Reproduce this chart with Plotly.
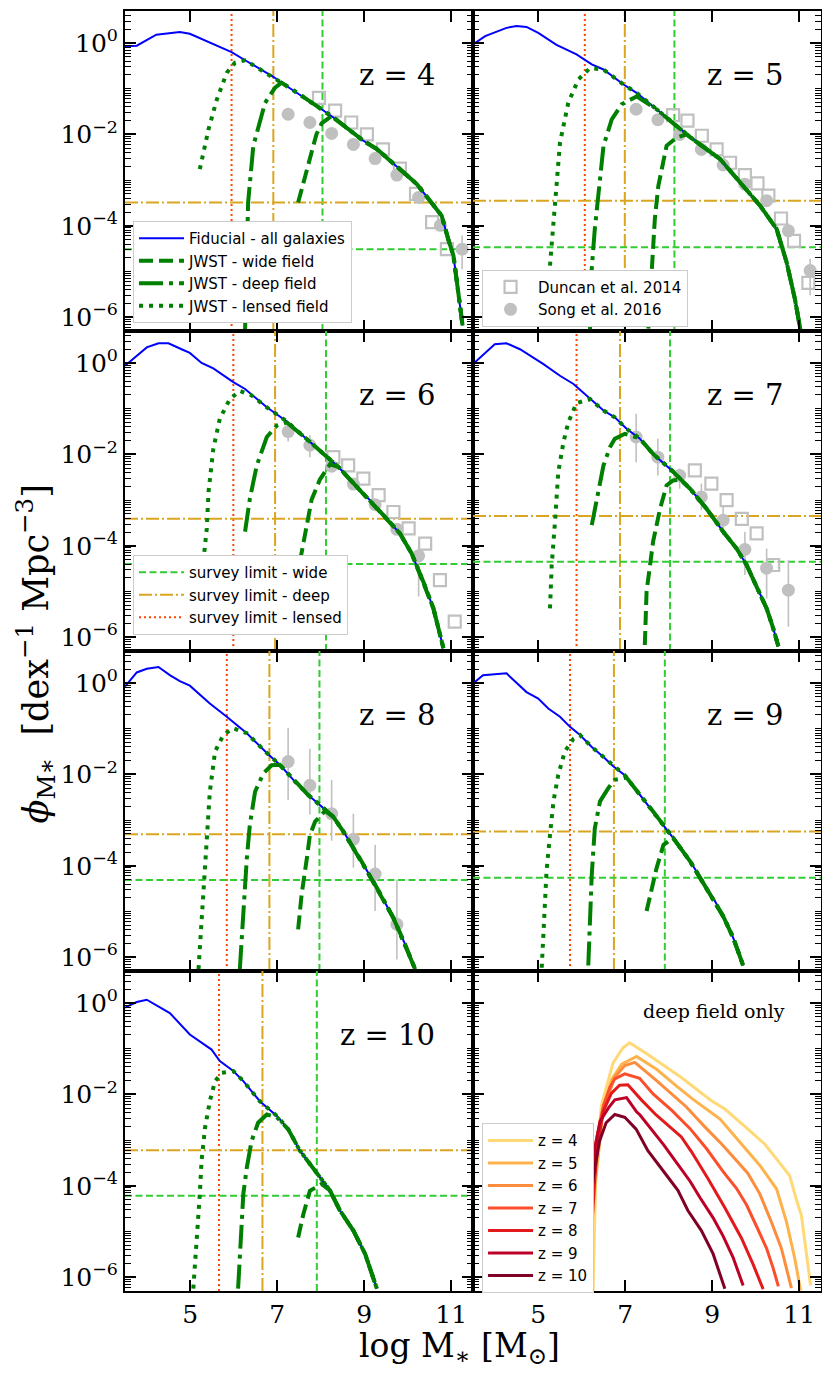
import numpy as np
import plotly.graph_objects as go
from plotly.subplots import make_subplots

# axis extents (log M*, log10 phi)
M_RANGE = [3.5, 11.5]
LOGPHI_RANGE = [-6.301, 0.699]

# ---------------- z = 4 ----------------
fid_z4_m = [3.5, 3.77, 4.22, 4.76, 4.99, 5.95, 6.3, 6.91, 7.1, 7.52, 8.02, 8.29, 8.98, 9.29, 9.82, 10.21, 10.51, 10.78, 10.93, 11.05, 11.13, 11.26]
fid_z4_phi = [-0.07, -0.06, 0.18, 0.24, 0.20, -0.20, -0.40, -0.74, -0.87, -1.13, -1.45, -1.63, -2.14, -2.32, -2.76, -3.09, -3.45, -3.78, -4.29, -4.65, -5.23, -6.18]
wide_z4_m = [7.48, 7.75, 7.9, 8.02, 8.25]
wide_z4_phi = [-3.49, -2.5, -2.0, -1.76, -1.60]
deep_z4_m = [6.26, 6.33, 6.45, 6.72, 6.95, 7.1]
deep_z4_phi = [-6.3, -3.49, -2.25, -1.31, -0.98, -0.87]
lens_z4_m = [5.22, 5.42, 5.61, 5.84, 6.03, 6.26]
lens_z4_phi = [-2.76, -1.89, -1.24, -0.65, -0.43, -0.38]
vlim_z4 = [8.04, 6.91, 5.95]      # wide, deep, lensed
hlim_z4 = [-4.51, -3.49]          # wide, deep

# ---------------- z = 5 ----------------
fid_z5_m = [3.5, 3.78, 4.27, 4.5, 4.73, 5.0, 5.42, 5.88, 6.23, 6.5, 6.96, 7.26, 7.72, 8.18, 8.41, 8.56, 9.18, 9.64, 10.1, 10.48, 10.71, 10.9, 11.03]
fid_z5_phi = [-0.035, 0.15, 0.33, 0.37, 0.35, 0.22, -0.04, -0.25, -0.47, -0.58, -0.91, -1.09, -1.45, -1.82, -2.0, -2.11, -2.54, -3.05, -3.56, -4.07, -4.80, -5.60, -6.29]
wide_z5_m = [7.53, 7.61, 7.68, 7.76, 7.87, 7.95, 8.18, 8.41]
wide_z5_phi = [-6.25, -4.87, -3.85, -3.13, -2.62, -2.25, -2.07, -2.0]
deep_z5_m = [6.19, 6.23, 6.3, 6.42, 6.5, 6.69, 6.92, 7.26]
deep_z5_phi = [-6.28, -4.93, -4.07, -3.05, -2.25, -1.67, -1.34, -1.17]
lens_z5_m = [5.27, 5.39, 5.5, 5.69, 5.92, 6.19, 6.5]
lens_z5_phi = [-4.87, -3.42, -2.18, -1.31, -0.80, -0.55, -0.58]
vlim_z5 = [8.13, 6.99, 6.07]
hlim_z5 = [-4.47, -3.45]

# ---------------- z = 6 ----------------
fid_z6_m = [3.5, 4.0, 4.27, 4.5, 4.80, 4.99, 5.26, 5.53, 5.99, 6.26, 6.76, 7.22, 7.72, 8.14, 8.4, 8.83, 9.21, 9.52, 9.82, 10.09, 10.36, 10.59, 10.82]
fid_z6_phi = [-0.06, 0.34, 0.43, 0.43, 0.30, 0.22, 0.0, -0.12, -0.42, -0.57, -0.97, -1.28, -1.70, -2.05, -2.27, -2.71, -3.08, -3.41, -3.73, -4.17, -4.79, -5.37, -6.24]
wide_z6_m = [7.52, 7.71, 7.79, 7.98, 8.21, 8.4]
wide_z6_phi = [-4.35, -3.33, -2.99, -2.55, -2.22, -2.27]
deep_z6_m = [6.26, 6.37, 6.53, 6.76, 6.99, 7.22]
deep_z6_phi = [-3.69, -2.97, -2.24, -1.62, -1.37, -1.30]
lens_z6_m = [5.3, 5.38, 5.42, 5.53, 5.68, 5.91, 6.14, 6.41]
lens_z6_phi = [-4.35, -3.62, -2.82, -1.88, -1.22, -0.79, -0.61, -0.71]
vlim_z6 = [8.12, 6.95, 5.99]
hlim_z6 = [-4.40, -3.41]

# ---------------- z = 7 ----------------
fid_z7_m = [3.5, 4.0, 4.27, 4.58, 5.12, 5.5, 5.81, 6.19, 6.5, 6.76, 7.03, 7.33, 7.64, 8.07, 8.49, 8.87, 9.25, 9.56, 9.79, 10.02, 10.25, 10.4, 10.52]
fid_z7_phi = [-0.025, 0.41, 0.43, 0.30, -0.025, -0.28, -0.46, -0.79, -1.04, -1.19, -1.44, -1.65, -1.99, -2.35, -2.75, -3.19, -3.69, -4.06, -4.42, -4.89, -5.37, -5.80, -6.2]
wide_z7_m = [7.45, 7.49, 7.57, 7.64, 7.8, 7.95, 8.1, 8.26]
wide_z7_phi = [-6.17, -5.0, -4.42, -3.91, -3.19, -2.68, -2.57, -2.55]
deep_z7_m = [6.23, 6.34, 6.5, 6.65, 6.76, 6.99, 7.33]
deep_z7_phi = [-3.55, -2.97, -2.24, -1.84, -1.66, -1.55, -1.65]
lens_z7_m = [5.27, 5.31, 5.39, 5.46, 5.58, 5.69, 5.88, 6.19]
lens_z7_phi = [-5.37, -4.42, -3.41, -2.39, -1.73, -1.30, -0.88, -0.79]
vlim_z7 = [8.03, 6.88, 5.88]
hlim_z7 = [-4.35, -3.35]

# ---------------- z = 8 ----------------
fid_z8_m = [3.5, 3.77, 4.0, 4.27, 4.53, 4.76, 4.99, 5.45, 5.84, 6.3, 6.79, 7.06, 7.37, 7.71, 7.98, 8.29, 8.52, 8.9, 9.29, 9.67, 9.94, 10.17]
fid_z8_phi = [-0.08, 0.23, 0.31, 0.35, 0.17, 0.04, -0.06, -0.45, -0.74, -1.10, -1.56, -1.79, -2.12, -2.45, -2.67, -2.93, -3.25, -3.84, -4.48, -5.14, -5.72, -6.26]
wide_z8_m = [7.48, 7.56, 7.68, 7.75, 7.87, 8.1]
wide_z8_phi = [-5.39, -4.63, -3.84, -3.33, -3.03, -2.80]
deep_z8_m = [6.14, 6.22, 6.3, 6.37, 6.49, 6.68, 6.87, 7.06]
deep_z8_phi = [-6.26, -4.92, -3.84, -3.10, -2.38, -1.98, -1.80, -1.79]
lens_z8_m = [5.19, 5.26, 5.34, 5.42, 5.45, 5.57, 5.76, 5.99, 6.3]
lens_z8_phi = [-6.26, -5.28, -4.19, -3.10, -2.38, -1.5, -1.14, -0.99, -1.10]
vlim_z8 = [7.97, 6.82, 5.84]
hlim_z8 = [-4.31, -3.31]

# ---------------- z = 9 ----------------
fid_z9_m = [3.5, 3.73, 4.27, 4.73, 5.0, 5.23, 5.5, 5.73, 5.96, 6.23, 6.5, 6.73, 6.99, 7.34, 7.64, 7.88, 8.1, 8.49, 8.72, 9.02, 9.25, 9.48, 9.71]
fid_z9_phi = [-0.014, 0.17, 0.21, -0.2, -0.34, -0.56, -0.74, -0.96, -1.14, -1.40, -1.62, -1.83, -2.02, -2.45, -2.81, -3.10, -3.39, -3.90, -4.26, -4.70, -5.10, -5.57, -6.18]
wide_z9_m = [7.49, 7.61, 7.72, 7.88, 8.1]
wide_z9_phi = [-4.99, -4.48, -4.05, -3.54, -3.39]
deep_z9_m = [6.15, 6.19, 6.23, 6.3, 6.42, 6.61, 6.76, 7.03, 7.26]
deep_z9_phi = [-6.18, -5.06, -4.19, -3.18, -2.59, -2.30, -2.12, -2.07, -2.38]
lens_z9_m = [5.08, 5.12, 5.16, 5.19, 5.27, 5.35, 5.46, 5.61, 5.81, 5.96]
lens_z9_phi = [-6.23, -5.5, -4.78, -4.12, -3.32, -2.59, -2.01, -1.5, -1.22, -1.14]
vlim_z9 = [7.91, 6.74, 5.73]
hlim_z9 = [-4.26, -3.25]

# ---------------- z = 10 ----------------
fid_z10_m = [3.5, 3.77, 4.0, 4.53, 4.99, 5.49, 5.68, 5.99, 6.22, 6.6, 6.99, 7.25, 7.52, 7.87, 8.21, 8.44, 8.75, 9.02, 9.29]
fid_z10_phi = [-0.1, 0.02, 0.07, -0.22, -0.69, -1.02, -1.27, -1.49, -1.71, -2.15, -2.47, -2.76, -3.23, -3.67, -4.10, -4.54, -4.98, -5.49, -6.25]
wide_z10_m = [7.48, 7.6, 7.75, 8.02, 8.21]
wide_z10_phi = [-5.13, -4.62, -4.11, -3.96, -4.10]
deep_z10_m = [6.1, 6.18, 6.22, 6.3, 6.41, 6.56, 6.76, 6.99]
deep_z10_phi = [-6.25, -5.05, -4.18, -3.6, -3.02, -2.62, -2.44, -2.5]
lens_z10_m = [5.07, 5.15, 5.22, 5.26, 5.34, 5.45, 5.57, 5.72, 5.95]
lens_z10_phi = [-6.25, -5.27, -4.18, -3.45, -2.73, -2.15, -1.71, -1.53, -1.49]
vlim_z10 = [7.91, 6.66, 5.66]
hlim_z10 = [-4.22, -3.22]

# ---------------- observations ----------------
duncan_z4_m = [7.96, 8.33, 8.70, 9.06, 9.43, 9.82, 10.19, 10.56, 10.90]
duncan_z4_phi = [-1.20, -1.48, -1.74, -2.0, -2.33, -2.75, -3.3, -3.92, -4.51]
duncan_z5_m = [8.1, 8.43, 8.76, 9.1, 9.41, 9.75, 10.04, 10.29, 10.58, 10.88, 11.21]
duncan_z5_phi = [-1.58, -1.70, -2.03, -2.33, -2.62, -2.89, -3.07, -3.34, -3.84, -4.33, -5.25]
duncan_z6_m = [8.29, 8.63, 8.98, 9.33, 9.67, 10.02, 10.4, 10.74, 11.08]
duncan_z6_phi = [-2.06, -2.24, -2.53, -2.89, -3.26, -3.62, -3.95, -4.75, -5.66]
duncan_z7_m = [8.6, 8.98, 9.33, 9.68, 10.02, 10.4]
duncan_z7_phi = [-2.35, -2.64, -3.0, -3.41, -3.73, -4.42]

song_z4_m = [7.25, 7.75, 8.25, 8.75, 9.25, 9.75, 10.25, 10.75, 11.25]
song_z4_phi = [-1.56, -1.74, -1.98, -2.22, -2.53, -2.89, -3.38, -3.99, -4.51]
song_z4_hi = [-1.51, -1.69, -1.93, -2.17, -2.48, -2.84, -3.32, -3.90, -4.21]
song_z4_lo = [-1.61, -1.79, -2.03, -2.27, -2.58, -2.94, -3.44, -4.10, -4.95]
song_z5_m = [7.25, 7.75, 8.25, 8.75, 9.25, 9.75, 10.25, 10.75, 11.25]
song_z5_phi = [-1.45, -1.68, -2.0, -2.33, -2.67, -3.09, -3.45, -4.11, -4.98]
song_z5_hi = [-1.35, -1.6, -1.95, -2.3, -2.62, -3.03, -3.38, -3.95, -4.72]
song_z5_lo = [-1.55, -1.76, -2.05, -2.37, -2.72, -3.15, -3.52, -4.27, -5.52]
song_z6_m = [7.25, 7.75, 8.25, 8.75, 9.25, 9.75, 10.25]
song_z6_phi = [-1.50, -1.80, -2.26, -2.65, -3.10, -3.64, -4.22]
song_z6_hi = [-1.30, -1.58, -2.18, -2.58, -3.03, -3.55, -4.0]
song_z6_lo = [-1.72, -2.06, -2.34, -2.72, -3.17, -3.75, -5.11]
song_z7_m = [7.25, 7.75, 8.25, 8.75, 9.25, 9.75, 10.25, 10.75]
song_z7_phi = [-1.62, -2.06, -2.46, -2.93, -3.44, -4.08, -4.49, -4.97]
song_z7_hi = [-1.11, -1.66, -2.31, -2.64, -3.15, -3.69, -4.06, -4.31]
song_z7_lo = [-2.17, -2.46, -2.75, -3.22, -3.77, -4.64, -5.15, -5.77]
song_z8_m = [7.25, 7.75, 8.25, 8.75, 9.25, 9.75]
song_z8_phi = [-1.72, -2.24, -2.86, -3.42, -4.18, -5.28]
song_z8_hi = [-0.98, -1.44, -2.12, -2.86, -3.54, -4.31]
song_z8_lo = [-2.56, -2.88, -3.45, -4.04, -4.99, -6.05]

redshifts = [4, 5, 6, 7, 8, 9, 10]
deep_colors = ['#fed976', '#feb24c', '#fd8d3c', '#fc4e2a', '#e31a1c', '#bd0026', '#800026']

# ---------------- styles ----------------
GREEN = '#008000'
C_WIDE = '#32cd32'
C_DEEP = '#daa520'
C_LENS = '#ff4500'
OBS = '#c0c0c0'
SERIF = 'DejaVu Serif'
SANS = 'DejaVu Sans'

panels = {
    4: dict(fid=(fid_z4_m, fid_z4_phi), wide=(wide_z4_m, wide_z4_phi), deep=(deep_z4_m, deep_z4_phi),
            lens=(lens_z4_m, lens_z4_phi), v=vlim_z4, h=hlim_z4,
            duncan=(duncan_z4_m, duncan_z4_phi), song=(song_z4_m, song_z4_phi, song_z4_hi, song_z4_lo)),
    5: dict(fid=(fid_z5_m, fid_z5_phi), wide=(wide_z5_m, wide_z5_phi), deep=(deep_z5_m, deep_z5_phi),
            lens=(lens_z5_m, lens_z5_phi), v=vlim_z5, h=hlim_z5,
            duncan=(duncan_z5_m, duncan_z5_phi), song=(song_z5_m, song_z5_phi, song_z5_hi, song_z5_lo)),
    6: dict(fid=(fid_z6_m, fid_z6_phi), wide=(wide_z6_m, wide_z6_phi), deep=(deep_z6_m, deep_z6_phi),
            lens=(lens_z6_m, lens_z6_phi), v=vlim_z6, h=hlim_z6,
            duncan=(duncan_z6_m, duncan_z6_phi), song=(song_z6_m, song_z6_phi, song_z6_hi, song_z6_lo)),
    7: dict(fid=(fid_z7_m, fid_z7_phi), wide=(wide_z7_m, wide_z7_phi), deep=(deep_z7_m, deep_z7_phi),
            lens=(lens_z7_m, lens_z7_phi), v=vlim_z7, h=hlim_z7,
            duncan=(duncan_z7_m, duncan_z7_phi), song=(song_z7_m, song_z7_phi, song_z7_hi, song_z7_lo)),
    8: dict(fid=(fid_z8_m, fid_z8_phi), wide=(wide_z8_m, wide_z8_phi), deep=(deep_z8_m, deep_z8_phi),
            lens=(lens_z8_m, lens_z8_phi), v=vlim_z8, h=hlim_z8,
            duncan=None, song=(song_z8_m, song_z8_phi, song_z8_hi, song_z8_lo)),
    9: dict(fid=(fid_z9_m, fid_z9_phi), wide=(wide_z9_m, wide_z9_phi), deep=(deep_z9_m, deep_z9_phi),
            lens=(lens_z9_m, lens_z9_phi), v=vlim_z9, h=hlim_z9, duncan=None, song=None),
    10: dict(fid=(fid_z10_m, fid_z10_phi), wide=(wide_z10_m, wide_z10_phi), deep=(deep_z10_m, deep_z10_phi),
             lens=(lens_z10_m, lens_z10_phi), v=vlim_z10, h=hlim_z10, duncan=None, song=None),
}
cells = {4: (1, 1), 5: (1, 2), 6: (2, 1), 7: (2, 2), 8: (3, 1), 9: (3, 2), 10: (4, 1)}


def join_curve(rise, fid):
    # rising part of a survey curve, then the fiducial beyond the join point
    rm, rp = rise
    fm, fp = fid
    m = list(rm) + [x for x in fm if x > rm[-1]]
    p = list(rp) + [y for x, y in zip(fm, fp) if x > rm[-1]]
    return m, 10 ** np.array(p)


fig = make_subplots(rows=4, cols=2, shared_xaxes=True, shared_yaxes=True,
                    horizontal_spacing=0, vertical_spacing=0)

y_span = [10 ** LOGPHI_RANGE[0], 10 ** LOGPHI_RANGE[1]]

for z in redshifts:
    d = panels[z]
    row, col = cells[z]
    first = (z == 4)

    # survey limits: wide, deep, lensed (vertical) and wide, deep (horizontal)
    styles = [(C_WIDE, '7px,3.5px', 'survey limit - wide'),
              (C_DEEP, '13px,3px,2px,3px', 'survey limit - deep'),
              (C_LENS, '2px,3px', 'survey limit - lensed')]
    for k, (c, dash, name) in enumerate(styles):
        fig.add_trace(go.Scatter(x=[d['v'][k], d['v'][k]], y=y_span, mode='lines',
                                 line=dict(color=c, width=2, dash=dash), name=name,
                                 showlegend=first, legend='legend3', hoverinfo='skip'),
                      row=row, col=col)
    for k in range(2):
        c, dash, name = styles[k]
        fig.add_trace(go.Scatter(x=M_RANGE, y=[10 ** d['h'][k]] * 2, mode='lines',
                                 line=dict(color=c, width=2, dash=dash), name=name,
                                 showlegend=False, hoverinfo='skip'),
                      row=row, col=col)

    # observations
    if d['duncan'] is not None:
        fig.add_trace(go.Scatter(x=d['duncan'][0], y=10 ** np.array(d['duncan'][1]), mode='markers',
                                 marker=dict(symbol='square-open', size=12, color=OBS, line=dict(width=2.2)),
                                 name='Duncan et al. 2014', showlegend=first, legend='legend2'),
                      row=row, col=col)
    if d['song'] is not None:
        sm, sp, shi, slo = d['song']
        yv = 10 ** np.array(sp)
        fig.add_trace(go.Scatter(x=sm, y=yv, mode='markers',
                                 marker=dict(symbol='circle', size=13, color=OBS),
                                 error_y=dict(type='data', symmetric=False,
                                              array=10 ** np.array(shi) - yv,
                                              arrayminus=yv - 10 ** np.array(slo),
                                              color=OBS, thickness=1.6, width=0),
                                 name='Song et al. 2016', showlegend=first, legend='legend2'),
                      row=row, col=col)

    # fiducial model
    fig.add_trace(go.Scatter(x=d['fid'][0], y=10 ** np.array(d['fid'][1]), mode='lines',
                             line=dict(color='blue', width=2), name='Fiducial - all galaxies',
                             showlegend=first, legend='legend'),
                  row=row, col=col)

    # JWST survey curves
    for key, dash, name in [('wide', '14px,6px', 'JWST - wide field'),
                            ('deep', '24px,6px,4px,6px', 'JWST - deep field'),
                            ('lens', '4px,6px', 'JWST - lensed field')]:
        m, y = join_curve(d[key], d['fid'])
        fig.add_trace(go.Scatter(x=m, y=y, mode='lines',
                                 line=dict(color=GREEN, width=4, dash=dash), name=name,
                                 showlegend=first, legend='legend'),
                      row=row, col=col)

    idx = (row - 1) * 2 + col
    sfx = '' if idx == 1 else str(idx)
    fig.add_annotation(text='z = %d' % z, x=0.897, y=0.80, xref='x%s domain' % sfx,
                       yref='y%s domain' % sfx, xanchor='right', yanchor='middle',
                       showarrow=False, font=dict(family=SERIF, size=29, color='black'))

# deep field only panel
for z, c in zip(redshifts, deep_colors):
    m, y = join_curve(panels[z]['deep'], panels[z]['fid'])
    fig.add_trace(go.Scatter(x=m, y=y, mode='lines', line=dict(color=c, width=3),
                             name='z = %d' % z, legend='legend4'),
                  row=4, col=2)
fig.add_annotation(text='deep field only', x=0.901, y=0.874, xref='x8 domain', yref='y8 domain',
                   xanchor='right', yanchor='middle', showarrow=False,
                   font=dict(family=SERIF, size=19, color='black'))

# axes
minor_vals = [k * 10.0 ** e for e in range(-7, 1) for k in range(1, 10)]
fig.update_xaxes(range=M_RANGE, tickvals=[5, 7, 9, 11], ticks='inside', ticklen=11, tickwidth=2,
                 tickcolor='black', showline=True, linewidth=2, linecolor='black', mirror='allticks',
                 showgrid=False, zeroline=False,
                 tickfont=dict(family=SERIF, size=25, color='black'))
fig.update_yaxes(type='log', range=LOGPHI_RANGE, tickvals=[1, 1e-2, 1e-4, 1e-6],
                 ticktext=['10<sup>0</sup>', '10<sup>−2</sup>', '10<sup>−4</sup>', '10<sup>−6</sup>'],
                 ticks='inside', ticklen=11, tickwidth=2, tickcolor='black',
                 minor=dict(tickvals=minor_vals, ticks='inside', ticklen=6, tickwidth=1, tickcolor='black'),
                 showline=True, linewidth=2, linecolor='black', mirror='allticks',
                 showgrid=False, zeroline=False,
                 tickfont=dict(family=SERIF, size=25, color='black'))

fig.add_annotation(text='log M<sub>∗</sub> [M<sub>⊙</sub>]', x=0.481, y=-0.044, xref='paper', yref='paper',
                   xanchor='center', yanchor='middle', showarrow=False,
                   font=dict(family=SERIF, size=33, color='black'))
fig.add_annotation(text='<i>ϕ</i><sub>M∗</sub>  [dex<sup>−1</sup> Mpc<sup>−3</sup>]', x=-0.128, y=0.498,
                   xref='paper', yref='paper', textangle=-90, xanchor='center', yanchor='middle',
                   showarrow=False, font=dict(family=SERIF, size=35, color='black'))

leg = dict(bgcolor='white', bordercolor='#cccccc', borderwidth=1, itemwidth=45,
           font=dict(family=SANS, size=15, color='black'), xanchor='left', yanchor='top')
# the page body adds an 8 px offset, so the figure is sized to fit inside the window
fig.update_layout(
    width=822, height=1367,
    margin=dict(l=117, r=9, t=1, b=84),
    plot_bgcolor='white', paper_bgcolor='white',
    legend=dict(x=0.0115, y=0.836, **leg),
    legend2=dict(x=0.513, y=0.798, **leg),
    legend3=dict(x=0.0115, y=0.575, **leg),
    legend4=dict(x=0.513, y=0.131, **leg),
)

fig.write_html("out.html")
